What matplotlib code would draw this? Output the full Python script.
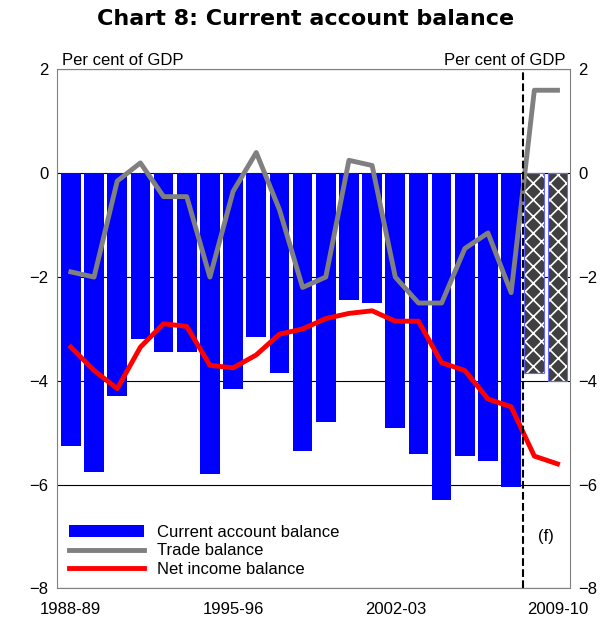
import numpy as np
import matplotlib
matplotlib.use('Agg')
from matplotlib import pyplot as plt

plt.rcParams['font.family'] = ['Liberation Sans', 'DejaVu Sans']
plt.rcParams['hatch.linewidth'] = 1.2

years = ['%d-%02d' % (y, (y + 1) % 100) for y in range(1988, 2010)]
cab = [-5.25, -5.75, -4.3, -3.2, -3.45, -3.45, -5.8, -4.15, -3.15, -3.85, -5.35,
       -4.8, -2.45, -2.5, -4.9, -5.4, -6.3, -5.45, -5.55, -6.05, -3.85, -4.0]
trade = [-1.9, -2.0, -0.15, 0.2, -0.45, -0.45, -2.0, -0.35, 0.4, -0.7, -2.2,
         -2.0, 0.25, 0.15, -2.0, -2.5, -2.5, -1.45, -1.15, -2.3, 1.6, 1.6]
income = [-3.35, -3.8, -4.15, -3.35, -2.9, -2.95, -3.7, -3.75, -3.5, -3.1, -3.0,
          -2.8, -2.7, -2.65, -2.85, -2.85, -3.65, -3.8, -4.35, -4.5, -5.45, -5.6]
n_forecast = 2

x = np.arange(len(years))
nh = len(years) - n_forecast

fig = plt.figure(figsize=(6.06, 6.26), dpi=100)
ax = fig.add_axes([0.094, 0.06, 0.847, 0.829])

ax.set_axisbelow(True)
ax.grid(axis='y', color='black', lw=0.8)
ax.bar(x[:nh], cab[:nh], width=0.85, color='#0000ff', label='Current account balance')
# forecast bars: dark fill, white cross hatch, pale blue outline
ax.bar(x[nh:], cab[nh:], width=0.85, facecolor='#404040', hatch='xx',
       edgecolor='white', lw=0)
ax.bar(x[nh:], cab[nh:], width=0.85, facecolor='none', edgecolor='#6666ff', lw=0.8)
ax.plot(x, trade, color='#808080', lw=3.5, label='Trade balance')
ax.plot(x, income, color='#ff0000', lw=3.5, label='Net income balance')
ax.axvline(nh - 0.5, color='black', ls='--', lw=1.5)

ax.set_xlim(-0.6, len(years) - 0.45)
ax.set_ylim(-8, 2)
ax.set_yticks(range(-8, 3, 2))
ax.tick_params(axis='both', labelsize=12, length=0)
ax.tick_params(axis='x', pad=10)
ax.tick_params(axis='y', right=True, labelright=True, pad=6)
ax.set_xticks(x[::7])
ax.set_xticklabels(years[::7])
for s in ax.spines.values():
    s.set_color('#808080')

ax.text(0.01, 1.003, 'Per cent of GDP', transform=ax.transAxes, fontsize=12, va='bottom')
ax.text(0.99, 1.003, 'Per cent of GDP', transform=ax.transAxes, fontsize=12, va='bottom', ha='right')
ax.text(nh + 0.5, -7.0, '(f)', fontsize=12, ha='center', va='center')
fig.suptitle('Chart 8: Current account balance', fontsize=16, fontweight='bold',
             x=0.505, y=0.985, family=['DejaVu Sans'])

h, l = ax.get_legend_handles_labels()
order = [l.index('Current account balance'), l.index('Trade balance'), l.index('Net income balance')]
ax.legend([h[i] for i in order], [l[i] for i in order], loc='lower left',
          bbox_to_anchor=(0.0, 0.0), frameon=False, fontsize=12,
          handlelength=4.5, borderaxespad=0.3, labelspacing=0.2)

fig.savefig('out.png')
